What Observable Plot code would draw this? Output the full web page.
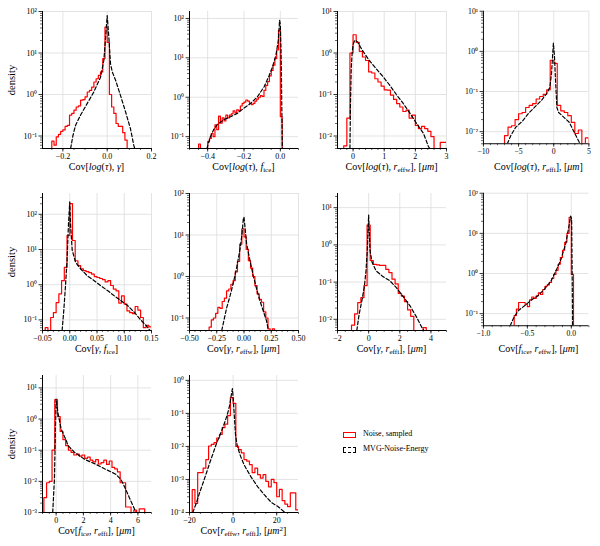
<!DOCTYPE html>
<html>
<head>
<meta charset="utf-8">
<script src="https://cdn.jsdelivr.net/npm/d3@7"></script>
<script src="https://cdn.jsdelivr.net/npm/@observablehq/plot@0.6"></script>
<style>
  body { margin: 0; background: #fff; }
  #fig { position: relative; width: 600px; height: 546px; font-family: "Liberation Serif", "Times New Roman", serif; color: #000; }
  .panel { position: absolute; }
  .xlabel { position: absolute; width: 200px; text-align: center; font-size: 10px; line-height: 12px; white-space: nowrap; }
  .ylabel { position: absolute; width: 60px; text-align: center; font-size: 10.5px; line-height: 12px; transform: rotate(-90deg); }
  .xlabel sub { font-size: 70%; vertical-align: baseline; position: relative; top: 0.3em; }
  .xlabel sup { font-size: 70%; vertical-align: baseline; position: relative; top: -0.45em; }
  .leg { position: absolute; font-size: 8px; line-height: 10px; white-space: nowrap; }
  .sw { position: absolute; width: 11px; height: 4px; }
</style>
</head>
<body>
<div id="fig"></div>
<script>
// ---- Noise, sampled: step histograms (bin start, bin width, densities; 0 = empty bin) ----
const p1Start = -0.25, p1Width = 0.01;
const p1Noise = [0.075, 0.06, 0.095, 0.11, 0.13, 0.14, 0.17, 0.18, 0.32, 0.35, 0.42, 0.5, 0.53, 0.73, 0.75, 0.88, 1.15, 1.26, 1.5, 2.0, 2.4, 2.9, 3.5, 7.3, 42, 18, 1.0, 0.5, 0.35, 0.2, 0.17, 0.17, 0.12, 0.08];
const p2Start = -0.45, p2Width = 0.01;
const p2Noise = [0.065, 0, 0, 0, 0, 0.075, 0.09, 0.12, 0.1, 0.2, 0.15, 0.33, 0.22, 0.3, 0.25, 0.35, 0.3, 0.35, 0.38, 0.45, 0.4, 0.48, 0.45, 0.6, 0.7, 0.75, 0.85, 0.8, 0.7, 0.65, 0.7, 0.8, 0.9, 1.0, 1.1, 1.05, 1.5, 2.0, 2.5, 3.5, 4.8, 6.5, 9.5, 16, 50, 0.32];
const p3Start = -0.3, p3Width = 0.1;
const p3Noise = [0.0058, 0.027, 1.0, 2.75, 1.8, 1.1, 0.8, 0.66, 0.35, 0.33, 0.24, 0.2, 0.16, 0.13, 0.127, 0.097, 0.076, 0.06, 0.05, 0.039, 0.042, 0.027, 0.032, 0.018, 0.015, 0.017, 0.015, 0.013, 0.0097, 0, 0, 0.007, 0.007];
const p4Start = -7.0, p4Width = 0.5;
const p4Noise = [0.008, 0.013, 0.014, 0.02, 0.028, 0.03, 0.04, 0.045, 0.05, 0.065, 0.075, 0.085, 0.11, 0.6, 0.5, 0.045, 0.033, 0.03, 0.025, 0.017, 0.009, 0.011, 0.004, 0.007];
const p5Start = -0.045, p5Width = 0.005;
const p5Noise = [0.06, 0.04, 0.117, 0.16, 0.31, 0.55, 1.3, 3.1, 25, 200, 18, 4.8, 3.5, 2.8, 2.5, 2.35, 2.2, 2.0, 1.7, 1.6, 1.5, 1.4, 1.2, 1.3, 0.95, 0.75, 0.67, 0.3, 0.48, 0.28, 0.18, 0.16, 0.15, 0.24, 0.19, 0.117, 0.06, 0.07, 0.063];
const p6Start = -0.32, p6Width = 0.02;
const p6Noise = [0.06, 0.09, 0.1, 0.13, 0.18, 0.17, 0.25, 0.3, 0.45, 0.5, 0.65, 0.8, 1.3, 2.3, 6, 14, 9, 4.5, 2.4, 1.6, 1.0, 0.6, 0.38, 0.28, 0.24, 0.14, 0.1, 0.055, 0.04, 0.055];
const p7Start = -1.1, p7Width = 0.2;
const p7Noise = [0.007, 0.014, 0.028, 0.038, 0.08, 3.4, 0.38, 0.3, 0.29, 0.28, 0.28, 0.22, 0.18, 0.12, 0.09, 0.05, 0.042, 0.03, 0.018, 0.012, 0, 0, 0, 0.006];
const p8Start = -0.65, p8Width = 0.025;
const p8Noise = [0.09, 0.13, 0.19, 0.19, 0.19, 0.17, 0.15, 0.22, 0.26, 0.24, 0.28, 0.33, 0.3, 0.4, 0.48, 0.52, 0.6, 0.75, 0.95, 1.2, 1.7, 2.5, 3.8, 6, 10, 25, 0.95];
const p9Start = -0.9, p9Width = 0.2;
const p9Noise = [0.003, 0.009, 0.01, 0.1, 4.2, 1.2, 0.4, 0.22, 0.14, 0.1, 0.085, 0.07, 0.075, 0.065, 0.07, 0.055, 0.06, 0.048, 0.042, 0.05, 0.036, 0.04, 0.048, 0.035, 0.045, 0.028, 0.025, 0.02, 0.009, 0.009, 0.0015, 0.0015, 0.001, 0.0012, 0.0008, 0.0013, 0.0013];
const p10Start = -18.75, p10Width = 1.25;
const p10Noise = [0.00049, 0.00019, 0.0016, 0.0016, 0.0022, 0.004, 0.0103, 0.0115, 0.013, 0.018, 0.023, 0.037, 0.047, 0.085, 0.3, 0.2, 0.01, 0.008, 0.0064, 0.004, 0.0036, 0.0028, 0.0016, 0.0022, 0.0014, 0.0011, 0.0014, 0.00088, 0.0006, 0.001, 0.0008, 0.0003, 0.0005, 0.00023, 0.00018, 0.00015, 0.00039, 0.00039, 0.00012];

// ---- MVG-Noise-Energy: density curves ----
const p1MvgX = [-0.165, -0.155, -0.143, -0.12, -0.09, -0.06, -0.03, -0.015, -0.006, 0, 0.0075, 0.015, 0.023, 0.038, 0.06, 0.083, 0.105, 0.12, 0.124];
const p1MvgY = [0.05, 0.1, 0.18, 0.32, 0.61, 1.16, 2.6, 6.7, 29, 80, 24, 5.5, 3.5, 2.2, 0.95, 0.38, 0.15, 0.06, 0.05];
const p2MvgX = [-0.404, -0.385, -0.367, -0.348, -0.311, -0.274, -0.237, -0.2, -0.163, -0.126, -0.089, -0.061, -0.043, -0.024, -0.011, -0.004, 0, 0.004, 0.008, 0.011];
const p2MvgY = [0.05, 0.1, 0.15, 0.2, 0.27, 0.32, 0.39, 0.53, 0.7, 1.03, 1.85, 3.6, 5.9, 11.8, 28, 90, 70, 15, 0.6, 0.05];
const p3MvgX = [-0.1, -0.085, -0.06, -0.03, 0.0, 0.05, 0.09, 0.14, 0.30, 0.52, 0.74, 0.96, 1.17, 1.39, 1.61, 1.83, 2.04, 2.26, 2.42, 2.46];
const p3MvgY = [0.005, 0.05, 0.4, 1.0, 1.6, 2.0, 2.0, 1.85, 1.16, 0.66, 0.42, 0.27, 0.17, 0.1, 0.061, 0.035, 0.02, 0.0116, 0.0056, 0.005];
const p4MvgX = [-6.6, -6.1, -5.42, -4.49, -3.56, -2.64, -1.71, -1.02, -0.56, -0.32, -0.05, 0.1, 0.25, 0.45, 0.7, 1.53, 2.22, 2.69, 3.15, 3.6, 3.7];
const p4MvgY = [0.005, 0.008, 0.0128, 0.018, 0.029, 0.042, 0.061, 0.088, 0.126, 0.27, 1.6, 0.8, 0.2, 0.04, 0.03, 0.022, 0.017, 0.0116, 0.008, 0.0056, 0.005];
const p5MvgX = [-0.014, -0.011, -0.008, -0.005, -0.0023, 0, 0.0014, 0.0045, 0.0107, 0.02, 0.032, 0.045, 0.057, 0.07, 0.082, 0.094, 0.107, 0.119, 0.131, 0.141, 0.147];
const p5MvgY = [0.05, 0.18, 0.84, 4.8, 54, 225, 54, 9.6, 4.3, 2.8, 1.8, 1.3, 0.93, 0.67, 0.48, 0.35, 0.25, 0.16, 0.097, 0.067, 0.05];
const p6MvgX = [-0.204, -0.182, -0.158, -0.128, -0.097, -0.067, -0.036, -0.018, -0.006, 0, 0.009, 0.024, 0.055, 0.085, 0.116, 0.146, 0.176, 0.207, 0.222];
const p6MvgY = [0.05, 0.093, 0.18, 0.34, 0.72, 1.66, 4.6, 10.7, 24.7, 27, 15.5, 6.1, 2.4, 1.05, 0.5, 0.26, 0.15, 0.085, 0.053];
const p7MvgX = [-0.76, -0.61, -0.44, -0.28, -0.17, -0.087, 0, 0.087, 0.22, 0.48, 0.92, 1.35, 1.79, 2.23, 2.66, 3.1, 3.42, 3.55];
const p7MvgY = [0.005, 0.0137, 0.031, 0.072, 0.2, 0.71, 6.3, 0.71, 0.34, 0.2, 0.14, 0.11, 0.07, 0.04, 0.023, 0.011, 0.006, 0.005];
const p8MvgX = [-0.695, -0.658, -0.602, -0.528, -0.454, -0.379, -0.305, -0.23, -0.175, -0.119, -0.063, -0.026, -0.007, 0.004, 0.01, 0.015];
const p8MvgY = [0.05, 0.077, 0.12, 0.16, 0.22, 0.28, 0.41, 0.66, 1.16, 2.2, 5.6, 15.5, 27, 22, 1, 0.05];
const p9MvgX = [-0.25, -0.125, -0.05, 0, 0.125, 0.375, 0.75, 0.875, 1.375, 2.125, 2.875, 3.625, 4.375, 4.75, 5.0, 5.375, 5.75, 5.83];
const p9MvgY = [0.001, 0.0117, 0.5, 4.4, 1.64, 0.47, 0.2, 0.14, 0.084, 0.05, 0.036, 0.0245, 0.017, 0.0116, 0.007, 0.003, 0.0013, 0.001];
const p10MvgX = [-18.5, -16.9, -15.4, -13.8, -12.2, -10.7, -9.1, -7.5, -5.9, -4.4, -2.8, -1.6, -0.63, -0.3, 0.16, 1.1, 1.9, 3.45, 5.0, 8.2, 11.3, 14.4, 17.6, 20.7, 23.8];
const p10MvgY = [0.0001, 0.00019, 0.00039, 0.00078, 0.0016, 0.0032, 0.0064, 0.013, 0.023, 0.042, 0.085, 0.17, 0.44, 0.56, 0.22, 0.023, 0.0103, 0.005, 0.0028, 0.0012, 0.0006, 0.00034, 0.0002, 0.00015, 0.0001];

// ---- axis ticks ----
const p1XTicks = [-0.2, 0, 0.2],              p1YTicks = [0.1, 1, 10, 100];
const p2XTicks = [-0.4, -0.2, 0],             p2YTicks = [0.1, 1, 10, 100];
const p3XTicks = [0, 1, 2, 3],                p3YTicks = [0.01, 0.1, 1, 10];
const p4XTicks = [-10, -5, 0, 5],             p4YTicks = [0.01, 0.1, 1, 10];
const p5XTicks = [-0.05, 0, 0.05, 0.1, 0.15], p5YTicks = [0.1, 1, 10, 100];
const p6XTicks = [-0.5, -0.25, 0, 0.25, 0.5], p6YTicks = [0.1, 1, 10, 100];
const p7XTicks = [-2, 0, 2, 4],               p7YTicks = [0.01, 0.1, 1, 10];
const p8XTicks = [-1, -0.5, 0],               p8YTicks = [0.1, 1, 10, 100];
const p9XTicks = [0, 2, 4, 6],                p9YTicks = [0.001, 0.01, 0.1, 1, 10];
const p10XTicks = [-20, 0, 20],               p10YTicks = [0.0001, 0.001, 0.01, 0.1, 1];

const panels = [
  {start: p1Start, width: p1Width, noise: p1Noise, mx: p1MvgX, my: p1MvgY, xDomain: [-0.292, 0.2], yDomain: [0.05, 100], xTicks: p1XTicks, xMinor: 0.05, xFmt: ".1f", yTicks: p1YTicks,
   label: 'Cov[<i>log</i>(<i>τ</i>), <i>γ</i>]'},
  {start: p2Start, width: p2Width, noise: p2Noise, mx: p2MvgX, my: p2MvgY, xDomain: [-0.5, 0.1], yDomain: [0.05, 150], xTicks: p2XTicks, xMinor: 0.05, xFmt: ".1f", yTicks: p2YTicks,
   label: 'Cov[<i>log</i>(<i>τ</i>), <i>f</i><sub>ice</sub>]'},
  {start: p3Start, width: p3Width, noise: p3Noise, mx: p3MvgX, my: p3MvgY, xDomain: [-0.5, 3], yDomain: [0.005, 10], xTicks: p3XTicks, xMinor: 0.2, xFmt: "d", yTicks: p3YTicks,
   label: 'Cov[<i>log</i>(<i>τ</i>), <i>r</i><sub>effw</sub>], [<i>μm</i>]'},
  {start: p4Start, width: p4Width, noise: p4Noise, mx: p4MvgX, my: p4MvgY, xDomain: [-10, 5], yDomain: [0.005, 10], xTicks: p4XTicks, xMinor: 1, xFmt: "d", yTicks: p4YTicks,
   label: 'Cov[<i>log</i>(<i>τ</i>), <i>r</i><sub>effi</sub>], [<i>μm</i>]'},
  {start: p5Start, width: p5Width, noise: p5Noise, mx: p5MvgX, my: p5MvgY, xDomain: [-0.05, 0.15], yDomain: [0.05, 390], xTicks: p5XTicks, xMinor: 0.01, xFmt: ".2f", yTicks: p5YTicks,
   label: 'Cov[<i>γ</i>, <i>f</i><sub>ice</sub>]'},
  {start: p6Start, width: p6Width, noise: p6Noise, mx: p6MvgX, my: p6MvgY, xDomain: [-0.5, 0.5], yDomain: [0.05, 100], xTicks: p6XTicks, xMinor: 0.05, xFmt: ".2f", yTicks: p6YTicks,
   label: 'Cov[<i>γ</i>, <i>r</i><sub>effw</sub>], [<i>μm</i>]'},
  {start: p7Start, width: p7Width, noise: p7Noise, mx: p7MvgX, my: p7MvgY, xDomain: [-2, 5], yDomain: [0.005, 24], xTicks: p7XTicks, xMinor: 0.5, xFmt: "d", yTicks: p7YTicks,
   label: 'Cov[<i>γ</i>, <i>r</i><sub>effi</sub>], [<i>μm</i>]'},
  {start: p8Start, width: p8Width, noise: p8Noise, mx: p8MvgX, my: p8MvgY, xDomain: [-1, 0.2], yDomain: [0.05, 100], xTicks: p8XTicks, xMinor: 0.1, xFmt: ".1f", yTicks: p8YTicks,
   label: 'Cov[<i>f</i><sub>ice</sub>, <i>r</i><sub>effw</sub>], [<i>μm</i>]'},
  {start: p9Start, width: p9Width, noise: p9Noise, mx: p9MvgX, my: p9MvgY, xDomain: [-1, 7], yDomain: [0.001, 25], xTicks: p9XTicks, xMinor: 0.5, xFmt: "d", yTicks: p9YTicks,
   label: 'Cov[<i>f</i><sub>ice</sub>, <i>r</i><sub>effi</sub>], [<i>μm</i>]'},
  {start: p10Start, width: p10Width, noise: p10Noise, mx: p10MvgX, my: p10MvgY, xDomain: [-20, 30], yDomain: [0.0001, 1.4], xTicks: p10XTicks, xMinor: 5, xFmt: "d", yTicks: p10YTicks,
   label: 'Cov[<i>r</i><sub>effw</sub>, <i>r</i><sub>effi</sub>], [<i>μm</i><sup>2</sup>]'}
];

// ---- grid layout of the small multiples ----
const colLeft = [42, 189, 337, 484];
const rowTop = [11, 193, 375];
const PW = 109, PH = 137;
const ML = 32, MR = 12, MT = 8, MB = 18;

const SUP = {"0": "⁰", "1": "¹", "2": "²", "3": "³", "4": "⁴", "5": "⁵", "6": "⁶", "7": "⁷", "8": "⁸", "9": "⁹", "-": "⁻"};
const powFmt = d => "10" + String(Math.round(Math.log10(d))).split("").map(c => SUP[c]).join("");

function logMinor([lo, hi]) {
  const out = [];
  for (let e = Math.floor(Math.log10(lo)) - 1; e <= Math.ceil(Math.log10(hi)); e++)
    for (let m = 2; m <= 9; m++) {
      const v = m * Math.pow(10, e);
      if (v >= lo * 0.999 && v <= hi * 1.001) out.push(v);
    }
  return out;
}
function linMinor([lo, hi], step) {
  const out = [];
  for (let k = Math.ceil(lo / step - 1e-9); k * step <= hi + 1e-9; k++) out.push(+(k * step).toFixed(10));
  return out;
}

const fig = document.getElementById("fig");

panels.forEach((p, idx) => {
  const col = idx % 4, row = Math.floor(idx / 4);
  const floor = p.yDomain[0] / 100;

  // step outline of the histogram: rise at the first edge, fall after the last bin
  const steps = [{x: p.start, y: floor}];
  p.noise.forEach((v, i) => steps.push({x: p.start + i * p.width, y: v > 0 ? v : floor}));
  steps.push({x: p.start + p.noise.length * p.width, y: floor});

  const mvg = p.mx.map((x, i) => ({x, y: p.my[i]}));
  const fmt = d3.format(p.xFmt);

  const chart = Plot.plot({
    width: ML + PW + MR,
    height: MT + PH + MB,
    marginLeft: ML, marginRight: MR, marginTop: MT, marginBottom: MB,
    style: {fontFamily: '"Liberation Serif", "Times New Roman", serif', fontSize: "8px", color: "#000", background: "transparent", overflow: "visible"},
    x: {domain: p.xDomain},
    y: {type: "log", domain: p.yDomain},
    marks: [
      Plot.gridX(p.xTicks, {stroke: "#dcdcdc", strokeOpacity: 1, strokeWidth: 0.8}),
      Plot.gridY(p.yTicks, {stroke: "#dcdcdc", strokeOpacity: 1, strokeWidth: 0.8}),
      Plot.line(steps, {x: "x", y: "y", curve: "step-after", stroke: "#ff0000", strokeWidth: 1.2, clip: true}),
      Plot.line(mvg, {x: "x", y: "y", curve: "linear", stroke: "#000", strokeWidth: 1.2, strokeDasharray: "3.6,2.2", clip: true}),
      Plot.ruleX([p.xDomain[0]], {stroke: "#000", strokeWidth: 1}),
      Plot.ruleY([p.yDomain[0]], {stroke: "#000", strokeWidth: 1}),
      Plot.axisX(linMinor(p.xDomain, p.xMinor), {tickSize: 2, tickFormat: () => "", label: null, strokeWidth: 0.6}),
      Plot.axisX(p.xTicks, {tickSize: 3.5, tickPadding: 1.5, tickFormat: fmt, label: null, strokeWidth: 0.8}),
      Plot.axisY(logMinor(p.yDomain), {tickSize: 2, tickFormat: () => "", label: null, strokeWidth: 0.6}),
      Plot.axisY(p.yTicks, {tickSize: 3.5, tickPadding: 2, tickFormat: powFmt, label: null, strokeWidth: 0.8})
    ]
  });
  const holder = document.createElement("div");
  holder.className = "panel";
  holder.style.left = (colLeft[col] - ML) + "px";
  holder.style.top = (rowTop[row] - MT) + "px";
  holder.appendChild(chart);
  fig.appendChild(holder);

  const xl = document.createElement("div");
  xl.className = "xlabel";
  xl.innerHTML = p.label;
  xl.style.left = (colLeft[col] + PW / 2 - 100) + "px";
  xl.style.top = (rowTop[row] + PH + 13) + "px";
  fig.appendChild(xl);

  if (col === 0) {
    const yl = document.createElement("div");
    yl.className = "ylabel";
    yl.textContent = "density";
    yl.style.left = (12 - 30) + "px";
    yl.style.top = (rowTop[row] + PH / 2 - 6) + "px";
    fig.appendChild(yl);
  }
});

// ---- legend ----
const legendItems = [
  {name: "Noise, sampled", border: "1.3px solid #ff0000"},
  {name: "MVG-Noise-Energy", border: "1.3px dashed #000"}
];
legendItems.forEach((it, i) => {
  const sw = document.createElement("div");
  sw.className = "sw";
  sw.style.border = it.border;
  sw.style.left = "343px";
  sw.style.top = (432 + i * 15) + "px";
  fig.appendChild(sw);
  const t = document.createElement("div");
  t.className = "leg";
  t.textContent = it.name;
  t.style.left = "363px";
  t.style.top = (429 + i * 15) + "px";
  fig.appendChild(t);
});
</script>
</body>
</html>
